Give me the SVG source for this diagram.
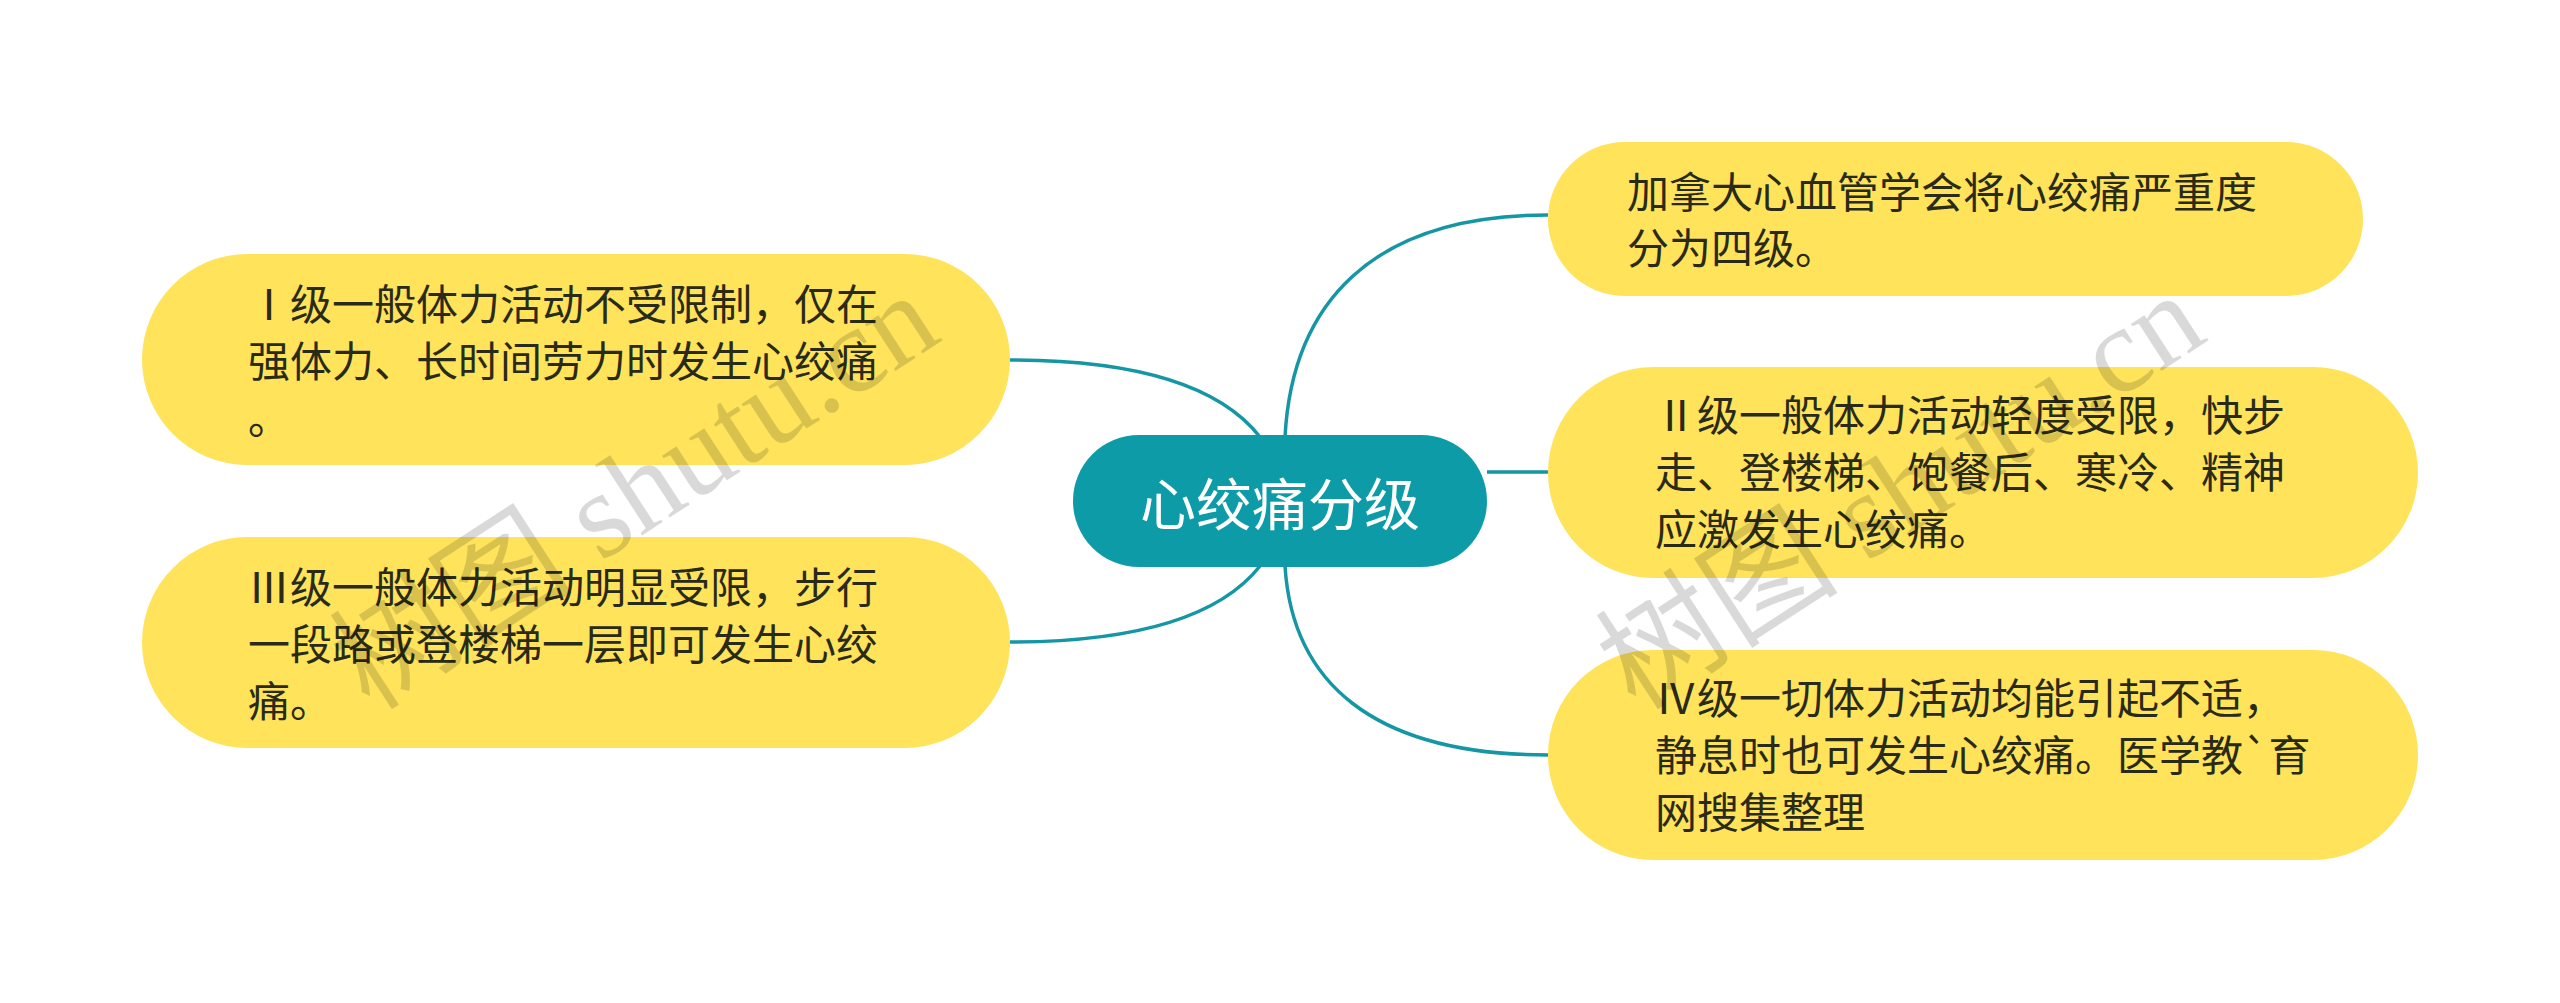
<svg xmlns="http://www.w3.org/2000/svg" width="2560" height="1003" viewBox="0 0 2560 1003">
<style>
.leaf{fill:#FEE35B;}
.lt{font-family:"Noto Sans CJK SC","Noto Sans",sans-serif;font-size:42px;fill:#2a2a18;}
.root{fill:#0E9BA8;}
.rt{font-family:"Noto Sans CJK SC","Noto Sans",sans-serif;font-size:56px;fill:#ffffff;}
.conn{fill:none;stroke:#1596A4;stroke-width:3.5;}
.wm{font-family:"Liberation Serif","Noto Sans CJK SC",serif;font-size:122px;fill:#000;fill-opacity:0.15;}
</style>
<rect width="2560" height="1003" fill="#ffffff"/>
<g id="connectors">
<path class="conn" d="M1260 437 Q1200 360 1010 360"/>
<path class="conn" d="M1260 566 Q1200 642 1010 642"/>
<path class="conn" d="M1285 437 C1292 305 1370 215 1548 215"/>
<path class="conn" d="M1487 472 L1548 472"/>
<path class="conn" d="M1285 566 C1292 680 1370 755 1548 755"/>
</g>
<g id="root">
<rect class="root" x="1073" y="435" width="414" height="132" rx="66"/>
<text class="rt" x="1280" y="525" text-anchor="middle">心绞痛分级</text>
</g>
<g id="node-1">
<rect class="leaf" x="142" y="254" width="868" height="211" rx="105.5"/>
<text class="lt"><tspan x="248" y="320">Ⅰ级一般体力活动不受限制，仅在</tspan><tspan x="248" y="377">强体力、长时间劳力时发生心绞痛</tspan><tspan x="248" y="434">。</tspan></text>
</g>
<g id="node-3">
<rect class="leaf" x="142" y="537" width="868" height="211" rx="105.5"/>
<text class="lt"><tspan x="248" y="603">Ⅲ级一般体力活动明显受限，步行</tspan><tspan x="248" y="660">一段路或登楼梯一层即可发生心绞</tspan><tspan x="248" y="717">痛。</tspan></text>
</g>
<g id="node-a">
<rect class="leaf" x="1548" y="142" width="815" height="154" rx="77"/>
<text class="lt"><tspan x="1627" y="208">加拿大心血管学会将心绞痛严重度</tspan><tspan x="1627" y="264">分为四级。</tspan></text>
</g>
<g id="node-2">
<rect class="leaf" x="1548" y="367" width="870" height="211" rx="105.5"/>
<text class="lt"><tspan x="1655" y="431">Ⅱ级一般体力活动轻度受限，快步</tspan><tspan x="1655" y="488">走、登楼梯、饱餐后、寒冷、精神</tspan><tspan x="1655" y="545">应激发生心绞痛。</tspan></text>
</g>
<g id="node-4">
<rect class="leaf" x="1548" y="650" width="870" height="210" rx="105"/>
<text class="lt"><tspan x="1655" y="714">Ⅳ级一切体力活动均能引起不适，</tspan><tspan x="1655" y="771">静息时也可发生心绞痛。医学教`育</tspan><tspan x="1655" y="828">网搜集整理</tspan></text>
</g>
<g id="watermarks">
<text class="wm" transform="translate(370 712) rotate(-33)" x="0" y="0">树图 shutu.cn</text>
<text class="wm" transform="translate(1636 712) rotate(-33)" x="0" y="0">树图 shutu.cn</text>
</g>
</svg>
